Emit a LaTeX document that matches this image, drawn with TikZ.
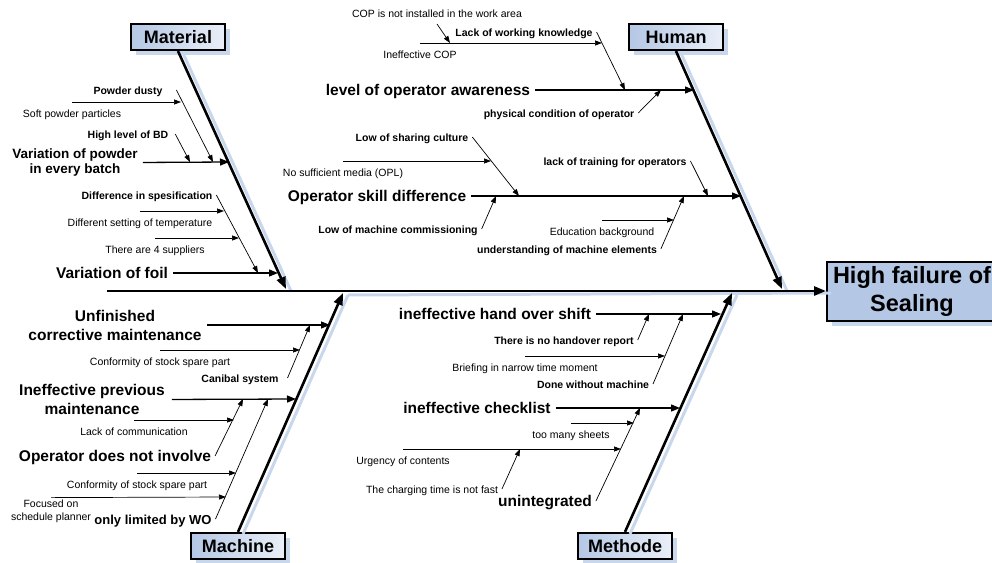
\documentclass[tikz,border=0pt]{standalone}
\usepackage{fontspec}
\setmainfont{Liberation Sans}
\usetikzlibrary{arrows.meta,shadows,positioning}

\definecolor{boxblue}{RGB}{180,199,228}
\definecolor{boxlight}{RGB}{234,239,248}
\definecolor{shadowblue}{RGB}{201,215,237}

\begin{document}
\begin{tikzpicture}[x=1pt, y=-1pt,
    category/.style={rectangle, draw, line width=2.2pt, left color=boxblue, right color=boxlight,
        minimum width=94pt, minimum height=26pt, inner sep=0pt,
        font=\fontsize{18}{20}\selectfont\bfseries,
        drop shadow={shadow xshift=5pt, shadow yshift=-5pt, fill=shadowblue, opacity=1}},
    effect/.style={rectangle, draw, line width=2pt, fill=boxblue, minimum width=170pt,
        minimum height=59pt, inner sep=0pt, align=center,
        font=\fontsize{23.5}{28}\selectfont\bfseries,
        drop shadow={shadow xshift=5pt, shadow yshift=-5pt, fill=shadowblue, opacity=1}},
    cause/.style={inner sep=0pt, align=center, font=\fontsize{15.5}{19}\selectfont\bfseries},
    oneline/.style={text height=13.5pt, text depth=2.5pt},
    subcause/.style={inner sep=0pt, outer xsep=4pt, text height=10pt, text depth=1.5pt,
        font=\fontsize{10.5}{13}\selectfont\bfseries},
    remark/.style={inner sep=0pt, outer ysep=5.25pt, text height=10pt, text depth=1.5pt,
        font=\fontsize{10.5}{13}\selectfont},
    bone/.style={line width=2.6pt, -{Triangle[length=12pt, width=9pt]}},
    boneshadow/.style={line width=3pt, shadowblue, transform canvas={shift={(5,2)}}},
    branch/.style={line width=1.3pt, -{Triangle[length=9pt, width=7pt]}, shorten <=5pt},
    twig/.style={line width=0.7pt, -{Triangle[length=7pt, width=5pt]}}
]
\useasboundingbox (0,0) rectangle (992,562);

% head and categories
\node[effect] (Effect) at (912,291) {High failure of\\Sealing};
\node[category] (Material) at (178,37) {Material};
\node[category] (Human) at (676,37) {Human};
\node[category] (Machine) at (238,546) {Machine};
\node[category] (Methode) at (625,546) {Methode};

\coordinate (Tail) at (107,291);
\coordinate (MatHead) at (286,289);
\coordinate (HumHead) at (782,289);
\coordinate (MacHead) at (343,293);
\coordinate (MetHead) at (732,293);

% bones
\draw[boneshadow] (Material.south) -- (MatHead);
\draw[boneshadow] (Human.south) -- (HumHead);
\draw[boneshadow] (Machine.north) -- (MacHead);
\draw[boneshadow] (Methode.north) -- (MetHead);
\draw[boneshadow] (MacHead) -- (Effect.west);
\draw[bone] (Tail) -- (Effect.west);
\draw[bone] (Material.south) -- (MatHead);
\draw[bone] (Human.south) -- (HumHead);
\draw[bone] (Machine.north) -- (MacHead);
\draw[bone] (Methode.north) -- (MetHead);

% Material
\node[cause, font=\fontsize{13.5}{15.5}\selectfont\bfseries] (Cause01) at (75,162.5) {Variation of powder\\in every batch};
\node[cause, oneline] (Cause02) at (112,273) {Variation of foil};
\node[subcause] (Sub01) at (128,90) {Powder dusty};
\node[subcause] (Sub02) at (128,134) {High level of BD};
\node[subcause] (Sub03) at (147,195) {Difference in spesification};
\node[remark] (Note01) at (72,113) {Soft powder particles};
\node[remark] (Note02) at (140,222) {Different setting of temperature};
\node[remark] (Note03) at (155,249) {There are 4 suppliers};

\coordinate (Tip01) at (229,162);
\coordinate (Tip02) at (278,273);
\coordinate (Tip03) at (213,162);
\coordinate (Tip04) at (190,162);
\coordinate (Tip05) at (258,273);
\coordinate (Tip06) at (181,102);
\coordinate (Tip07) at (224,211);
\coordinate (Tip08) at (239,238);

\draw[branch] (Cause01.east) -- (Tip01);
\draw[branch] (Cause02.east) -- (Tip02);
\draw[twig] ([xshift=10pt]Sub01.east) -- (Tip03);
\draw[twig] ([xshift=3pt]Sub02.east) -- (Tip04);
\draw[twig] (Sub03.east) -- (Tip05);
\draw[twig] (Note01.north) -- (Tip06);
\draw[twig] (Note02.north) -- (Tip07);
\draw[twig] (Note03.north) -- (Tip08);

% Human
\node[cause, oneline] (Cause03) at (428,90) {level of operator awareness};
\node[cause, oneline] (Cause04) at (377,196) {Operator skill difference};
\node[subcause] (Sub04) at (524,32) {Lack of working knowledge};
\node[subcause] (Sub05) at (559,113) {physical condition of operator};
\node[subcause] (Sub06) at (412,137) {Low of sharing culture};
\node[subcause] (Sub07) at (398,229) {Low of machine commissioning};
\node[subcause] (Sub08) at (615,161) {lack of training for operators};
\node[subcause] (Sub09) at (567,249) {understanding of machine elements};
\node[remark] (Note04) at (420,54) {Ineffective COP};
\node[remark] (Note05) at (343,172) {No sufficient media (OPL)};
\node[remark] (Note06) at (602,231) {Education background};
\node[remark] (Note14) at (437,13) {COP is not installed in the work area};

\coordinate (Tip09) at (694,90);
\coordinate (Tip10) at (741,196);
\coordinate (Tip11) at (625,90);
\coordinate (Tip12) at (661,90);
\coordinate (Tip13) at (519,196);
\coordinate (Tip14) at (496,196);
\coordinate (Tip15) at (708,196);
\coordinate (Tip16) at (684,196);
\coordinate (Tip17) at (602,43);
\coordinate (Tip18) at (491,161);
\coordinate (Tip19) at (674,220);
\coordinate (Tip20) at (450,43);

\draw[branch] (Cause03.east) -- (Tip09);
\draw[branch] (Cause04.east) -- (Tip10);
\draw[twig] (Sub04.east) -- (Tip11);
\draw[twig] (Sub05.east) -- (Tip12);
\draw[twig] (Sub06.east) -- (Tip13);
\draw[twig] (Sub07.east) -- (Tip14);
\draw[twig] (Sub08.east) -- (Tip15);
\draw[twig] (Sub09.east) -- (Tip16);
\draw[twig] (Note04.north) -- (Tip17);
\draw[twig] (Note05.north) -- (Tip18);
\draw[twig] (Note06.north) -- (Tip19);
\draw[twig] (Note14.south) -- (Tip20);

% Machine
\node[cause] (Cause05) at (115,325) {Unfinished\\corrective maintenance};
\node[cause] (Cause06) at (92,399.5) {Ineffective previous\\maintenance};
\node[subcause] (Sub10) at (240,378) {Canibal system};
\node[subcause, oneline, font=\fontsize{15.5}{19}\selectfont\bfseries] (Sub11) at (115,456) {Operator does not involve};
\node[subcause, text height=12pt, text depth=2pt, font=\fontsize{13}{16}\selectfont\bfseries] (Sub12) at (153,519) {only limited by WO};
\node[remark] (Note07) at (160,361) {Conformity of stock spare part};
\node[remark] (Note08) at (134,431) {Lack of communication};
\node[remark] (Note09) at (137,484) {Conformity of stock spare part};
\node[inner sep=0pt, outer ysep=2pt, align=center, font=\fontsize{10.5}{13}\selectfont] (Note10) at (51,511) {Focused on\\schedule planner};

\coordinate (Tip21) at (330,325);
\coordinate (Tip22) at (296,399);
\coordinate (Tip23) at (310,325);
\coordinate (Tip24) at (243,399);
\coordinate (Tip25) at (268,399);
\coordinate (Tip26) at (300,350);
\coordinate (Tip27) at (234,420);
\coordinate (Tip28) at (236,473);
\coordinate (Tip29) at (226,497);

\draw[branch] (Cause05.east) -- (Tip21);
\draw[branch, shorten <=7pt] (Cause06.east) -- (Tip22);
\draw[twig] ([xshift=5pt]Sub10.east) -- (Tip23);
\draw[twig] (Sub11.east) -- (Tip24);
\draw[twig] (Sub12.east) -- (Tip25);
\draw[twig] (Note07.north) -- (Tip26);
\draw[twig] (Note08.north) -- (Tip27);
\draw[twig] (Note09.north) -- (Tip28);
\draw[twig] (Note10.north) -- (Tip29);

% Methode
\node[cause, oneline] (Cause07) at (495,314) {ineffective hand over shift};
\node[cause, oneline] (Cause08) at (477,408) {ineffective checklist};
\node[subcause] (Sub13) at (564,340) {There is no handover report};
\node[subcause] (Sub14) at (593,384) {Done without machine};
\node[subcause, font=\fontsize{10.5}{13}\selectfont] (Sub15) at (432,489) {The charging time is not fast};
\node[subcause, oneline, font=\fontsize{15.5}{19}\selectfont\bfseries] (Sub16) at (545,501) {unintegrated};
\node[remark] (Note11) at (525,367) {Briefing in narrow time moment};
\node[remark] (Note12) at (571,434) {too many sheets};
\node[remark] (Note13) at (403,460) {Urgency of contents};

\coordinate (Tip30) at (721,314);
\coordinate (Tip31) at (680,408);
\coordinate (Tip32) at (649,314);
\coordinate (Tip33) at (683,314);
\coordinate (Tip34) at (520,449);
\coordinate (Tip35) at (640,408);
\coordinate (Tip36) at (665,356);
\coordinate (Tip37) at (634,423);
\coordinate (Tip38) at (621,449);

\draw[branch] (Cause07.east) -- (Tip30);
\draw[branch] (Cause08.east) -- (Tip31);
\draw[twig] (Sub13.east) -- (Tip32);
\draw[twig] (Sub14.east) -- (Tip33);
\draw[twig] (Sub15.east) -- (Tip34);
\draw[twig] (Sub16.east) -- (Tip35);
\draw[twig] (Note11.north) -- (Tip36);
\draw[twig] (Note12.north) -- (Tip37);
\draw[twig] (Note13.north) -- (Tip38);

\end{tikzpicture}
\end{document}
